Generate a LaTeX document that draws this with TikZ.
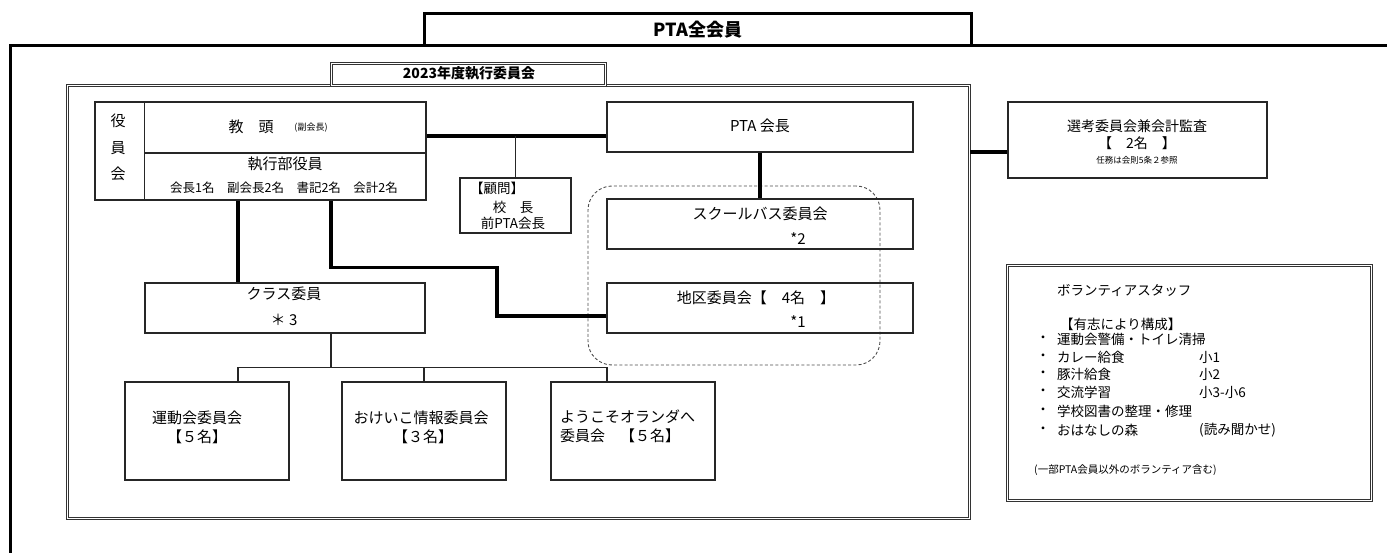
\documentclass[tikz,border=0pt]{standalone}
\usepackage{fontspec}
\setmainfont{Noto Sans CJK JP}
\newcommand\myfs[1]{\fontsize{#1}{#1}\selectfont}
\begin{document}
\begin{tikzpicture}[x=1pt,y=-1pt,
  box/.style={draw=black!85, line width=1.1pt, inner sep=0pt},
  dbl/.style={draw=black!80, double, double distance=1.8pt, line width=0.7pt, inner sep=0pt},
  heavy/.style={line width=3pt, draw=black},
  heavyc/.style={line width=3.2pt, draw=black},
  thinc/.style={line width=1.2pt, draw=black!85},
  lbl/.style={inner sep=0pt, font=\myfs{15}},
  sml/.style={inner sep=0pt, font=\myfs{13.5}},
]
\useasboundingbox (0,0) rectangle (1387,553);

% outer frame of all members
\coordinate (obl) at (10,553);
\coordinate (otr) at (1387,46);
\draw[heavy] (obl) |- (otr);
\node[inner sep=0pt, minimum width=546, minimum height=32] (zenkai) at (698,30) {};
\draw[heavy] (zenkai.south west) |- (zenkai.north east) -- (zenkai.south east);
\node[inner sep=0pt, font=\myfs{18}\bfseries] (zenkait) at (698,30) {PTA全会員};

% executive committee frame
\node[dbl, minimum width=902, minimum height=433] (frame) at (518.5,302) {};
\node[dbl, minimum width=274, minimum height=22] (tab) at (468.5,74.5) {};
\node[inner sep=0pt, font=\myfs{14}\bfseries] (tabt) at (469,73) {2023年度執行委員会};

% dashed group
\node[draw=black!70, line width=0.9pt, dash pattern=on 3pt off 2.2pt, rounded corners=24pt, minimum width=292, minimum height=179, inner sep=0pt] (grp) at (734,275.5) {};

% yakuin-kai box
\node[box, minimum width=331, minimum height=98] (yk) at (260.5,151) {};
\draw[box] ([xshift=50]yk.north west) -- ([xshift=50]yk.south west);
\draw[box] ([xshift=50,yshift=-2]yk.west) -- ([yshift=-2]yk.east);
\node[lbl] (yk1) at (118,121) {役};
\node[lbl] (yk2) at (118,148) {員};
\node[lbl] (yk3) at (118,174) {会};
\node[lbl] (kyoto) at (251,127) {教　頭};
\node[inner sep=0pt, font=\myfs{9}] (fuku) at (311,128) {(副会長)};
\node[lbl] (shikko) at (285,164) {執行部役員};
\node[inner sep=0pt, font=\myfs{12.5}] (shikko2) at (284,188) {会長1名　副会長2名　書記2名　会計2名};

% PTA president
\node[box, minimum width=306, minimum height=50] (kaicho) at (760,127) {};
\node[lbl] (kaichot) at (760,126) {PTA 会長};

% advisor
\node[box, minimum width=111, minimum height=55] (komon) at (515.5,205.5) {};
\node[sml] (komon1) at (497,188) {【顧問】};
\node[sml] (komon2) at (513,207) {校　長};
\node[sml] (komon3) at (513,223) {前PTA会長};

% school bus and district
\node[box, minimum width=306, minimum height=50] (bus) at (760,224) {};
\node[lbl] (bust) at (760,214) {スクールバス委員会};
\node[lbl] (bus2) at (798,239) {*2};
\node[box, minimum width=306, minimum height=50] (chiku) at (760,308) {};
\node[lbl] (chikut) at (756,298) {地区委員会【　4名　】};
\node[lbl] (chiku2) at (798,322) {*1};

% class committee
\node[box, minimum width=280, minimum height=50] (cls) at (285,308) {};
\node[lbl] (clst) at (284,294) {クラス委員};
\node[lbl] (cls2) at (284,320) {＊ 3};

% sub committees
\node[box, minimum width=164, minimum height=98] (b1) at (207,431) {};
\node[box, minimum width=164, minimum height=98] (b2) at (424,431) {};
\node[box, minimum width=164, minimum height=98] (b3) at (633,431) {};
\node[lbl] (b1a) at (197,418) {運動会委員会};
\node[lbl] (b1b) at (197,437) {【５名】};
\node[lbl] (b2a) at (421,418) {おけいこ情報委員会};
\node[lbl] (b2b) at (423,437) {【３名】};
\node[lbl, anchor=west] (b3a) at (560,417) {ようこそオランダへ};
\node[lbl, anchor=west] (b3b) at (560,436) {委員会　【５名】};

% selection committee
\node[box, minimum width=259, minimum height=76] (senko) at (1137.5,140) {};
\node[inner sep=0pt, font=\myfs{14}] (senko1) at (1137,126) {選考委員会兼会計監査};
\node[inner sep=0pt, font=\myfs{14}] (senko2) at (1137,143) {【　2名　】};
\node[inner sep=0pt, font=\myfs{8.5}] (senko3) at (1137,160) {任務は会則5条２参照};

% volunteers
\node[dbl, minimum width=364, minimum height=235] (vol) at (1189.5,383) {};
\node[sml, anchor=west] (v0) at (1057,290) {ボランティアスタッフ};
\node[sml, anchor=west] (v1) at (1060,324) {【有志により構成】};
\node[sml] (vb1) at (1043,339) {・};
\node[sml, anchor=west] (v2) at (1057,339) {運動会警備・トイレ清掃};
\node[sml] (vb2) at (1043,357) {・};
\node[sml, anchor=west] (v3) at (1057,357) {カレー給食};
\node[sml, anchor=west] (v3r) at (1199,357) {小1};
\node[sml] (vb3) at (1043,374) {・};
\node[sml, anchor=west] (v4) at (1057,374) {豚汁給食};
\node[sml, anchor=west] (v4r) at (1199,374) {小2};
\node[sml] (vb4) at (1043,392) {・};
\node[sml, anchor=west] (v5) at (1057,392) {交流学習};
\node[sml, anchor=west] (v5r) at (1199,392) {小3-小6};
\node[sml] (vb5) at (1043,411) {・};
\node[sml, anchor=west] (v6) at (1057,411) {学校図書の整理・修理};
\node[sml] (vb6) at (1043,430) {・};
\node[sml, anchor=west] (v7) at (1057,430) {おはなしの森};
\node[sml, anchor=west] (v7r) at (1199,430) {(読み聞かせ)};
\node[inner sep=0pt, font=\myfs{10.5}, anchor=west] (v8) at (1034,470) {(一部PTA会員以外のボランティア含む)};

% connectors
\draw[heavyc] ([yshift=-9]kaicho.west) -- ([yshift=-9]kaicho.west -| yk.east);
\coordinate (hj) at ([yshift=-9]kaicho.west);
\draw[thinc] (komon.north) -- (komon.north |- hj);
\draw[heavyc] (kaicho.south) -- (bus.north);
\draw[heavyc] ([xshift=-47]cls.north) -- ([xshift=-47]cls.north |- yk.south);
\draw[heavyc] ([xshift=70.5]yk.south) -- ++(0,67) -- ++(166,0) |- ([yshift=-8]chiku.west);
\draw[heavyc] ([yshift=-12]senko.west) -- ([yshift=-12]senko.west -| frame.east);
\draw[thinc] ([xshift=46]cls.south) -- ++(0,34) coordinate (sp);
\coordinate (br1) at ([xshift=31]b1.north);
\coordinate (br3) at ([xshift=-26]b3.north);
\draw[thinc] (br1) |- (sp) -| (br3);
\draw[thinc] (b2.north) -- (b2.north |- sp);
\end{tikzpicture}
\end{document}
